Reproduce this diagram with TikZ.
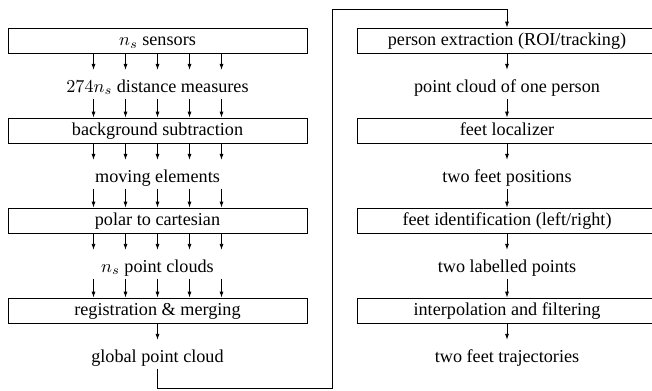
\documentclass[tikz,border=0pt]{standalone}
\usepackage[no-math]{fontspec}
\setmainfont{Liberation Serif}
\usetikzlibrary{arrows.meta}
\tikzset{
  stage/.style={draw, minimum width=164.4pt, minimum height=14pt,
    text height=7.5pt, text depth=2pt, inner sep=0pt},
  data/.style={text height=11.1pt, text depth=2.3pt, inner xsep=0pt, inner ysep=1pt},
  >={Latex[length=3.3pt,width=2.2pt]}
}

\begin{document}
\begin{tikzpicture}[x=0.55pt,y=0.55pt,line width=0.45pt]
  \useasboundingbox (0,0) rectangle (652,390);
  % left column
  \node[stage] (sens)   at (157.5,349.25) {$n_s$ sensors};
  \node[data]  (dist)   at (157.5,305.75) {$274n_s$ distance measures};
  \node[stage] (bgsub)  at (157.5,259.25) {background subtraction};
  \node[data]  (moving) at (157.5,215.75) {moving elements};
  \node[stage] (polar)  at (157.5,169.25) {polar to cartesian};
  \node[data]  (clouds) at (157.5,125.75) {$n_s$ point clouds};
  \node[stage] (regis)  at (157.5, 79.25) {registration \& merging};
  \node[data]  (global) at (157.5, 35.75) {global point cloud};
  % right column
  \node[stage] (person)   at (507,349.25) {person extraction (ROI/tracking)};
  \node[data]  (onepers)  at (507,305.75) {point cloud of one person};
  \node[stage] (feet)     at (507,259.25) {feet localizer};
  \node[data]  (feetpos)  at (507,215.75) {two feet positions};
  \node[stage] (ident)    at (507,169.25) {feet identification (left/right)};
  \node[data]  (labelled) at (507,125.75) {two labelled points};
  \node[stage] (interp)   at (507, 79.25) {interpolation and filtering};
  \node[data]  (traj)     at (507, 35.75) {two feet trajectories};
  % per-sensor arrows
  \draw[->] ([xshift=-35.2pt]sens.south) -- ([xshift=-35.2pt]dist.north);
  \draw[->] ([xshift=-17.6pt]sens.south) -- ([xshift=-17.6pt]dist.north);
  \draw[->] (sens.south) -- (dist.north);
  \draw[->] ([xshift= 17.6pt]sens.south) -- ([xshift= 17.6pt]dist.north);
  \draw[->] ([xshift= 35.2pt]sens.south) -- ([xshift= 35.2pt]dist.north);
  \draw[->] ([xshift=-35.2pt]dist.south) -- ([xshift=-35.2pt]bgsub.north);
  \draw[->] ([xshift=-17.6pt]dist.south) -- ([xshift=-17.6pt]bgsub.north);
  \draw[->] (dist.south) -- (bgsub.north);
  \draw[->] ([xshift= 17.6pt]dist.south) -- ([xshift= 17.6pt]bgsub.north);
  \draw[->] ([xshift= 35.2pt]dist.south) -- ([xshift= 35.2pt]bgsub.north);
  \draw[->] ([xshift=-35.2pt]bgsub.south) -- ([xshift=-35.2pt]moving.north);
  \draw[->] ([xshift=-17.6pt]bgsub.south) -- ([xshift=-17.6pt]moving.north);
  \draw[->] (bgsub.south) -- (moving.north);
  \draw[->] ([xshift= 17.6pt]bgsub.south) -- ([xshift= 17.6pt]moving.north);
  \draw[->] ([xshift= 35.2pt]bgsub.south) -- ([xshift= 35.2pt]moving.north);
  \draw[->] ([xshift=-35.2pt]moving.south) -- ([xshift=-35.2pt]polar.north);
  \draw[->] ([xshift=-17.6pt]moving.south) -- ([xshift=-17.6pt]polar.north);
  \draw[->] (moving.south) -- (polar.north);
  \draw[->] ([xshift= 17.6pt]moving.south) -- ([xshift= 17.6pt]polar.north);
  \draw[->] ([xshift= 35.2pt]moving.south) -- ([xshift= 35.2pt]polar.north);
  \draw[->] ([xshift=-35.2pt]polar.south) -- ([xshift=-35.2pt]clouds.north);
  \draw[->] ([xshift=-17.6pt]polar.south) -- ([xshift=-17.6pt]clouds.north);
  \draw[->] (polar.south) -- (clouds.north);
  \draw[->] ([xshift= 17.6pt]polar.south) -- ([xshift= 17.6pt]clouds.north);
  \draw[->] ([xshift= 35.2pt]polar.south) -- ([xshift= 35.2pt]clouds.north);
  \draw[->] ([xshift=-35.2pt]clouds.south) -- ([xshift=-35.2pt]regis.north);
  \draw[->] ([xshift=-17.6pt]clouds.south) -- ([xshift=-17.6pt]regis.north);
  \draw[->] (clouds.south) -- (regis.north);
  \draw[->] ([xshift= 17.6pt]clouds.south) -- ([xshift= 17.6pt]regis.north);
  \draw[->] ([xshift= 35.2pt]clouds.south) -- ([xshift= 35.2pt]regis.north);
  \draw[->] (regis.south) -- (global.north);
  % hand-over to the right column
  \coordinate (loopbot) at (332,  2);
  \coordinate (looptop) at (332,381);
  \draw[->] (global.south) |- (loopbot) -- (looptop) -| (person.north);
  % right column arrows
  \draw[->] (person.south)   -- (onepers.north);
  \draw[->] (onepers.south)  -- (feet.north);
  \draw[->] (feet.south)     -- (feetpos.north);
  \draw[->] (feetpos.south)  -- (ident.north);
  \draw[->] (ident.south)    -- (labelled.north);
  \draw[->] (labelled.south) -- (interp.north);
  \draw[->] (interp.south)   -- (traj.north);
\end{tikzpicture}
\end{document}
